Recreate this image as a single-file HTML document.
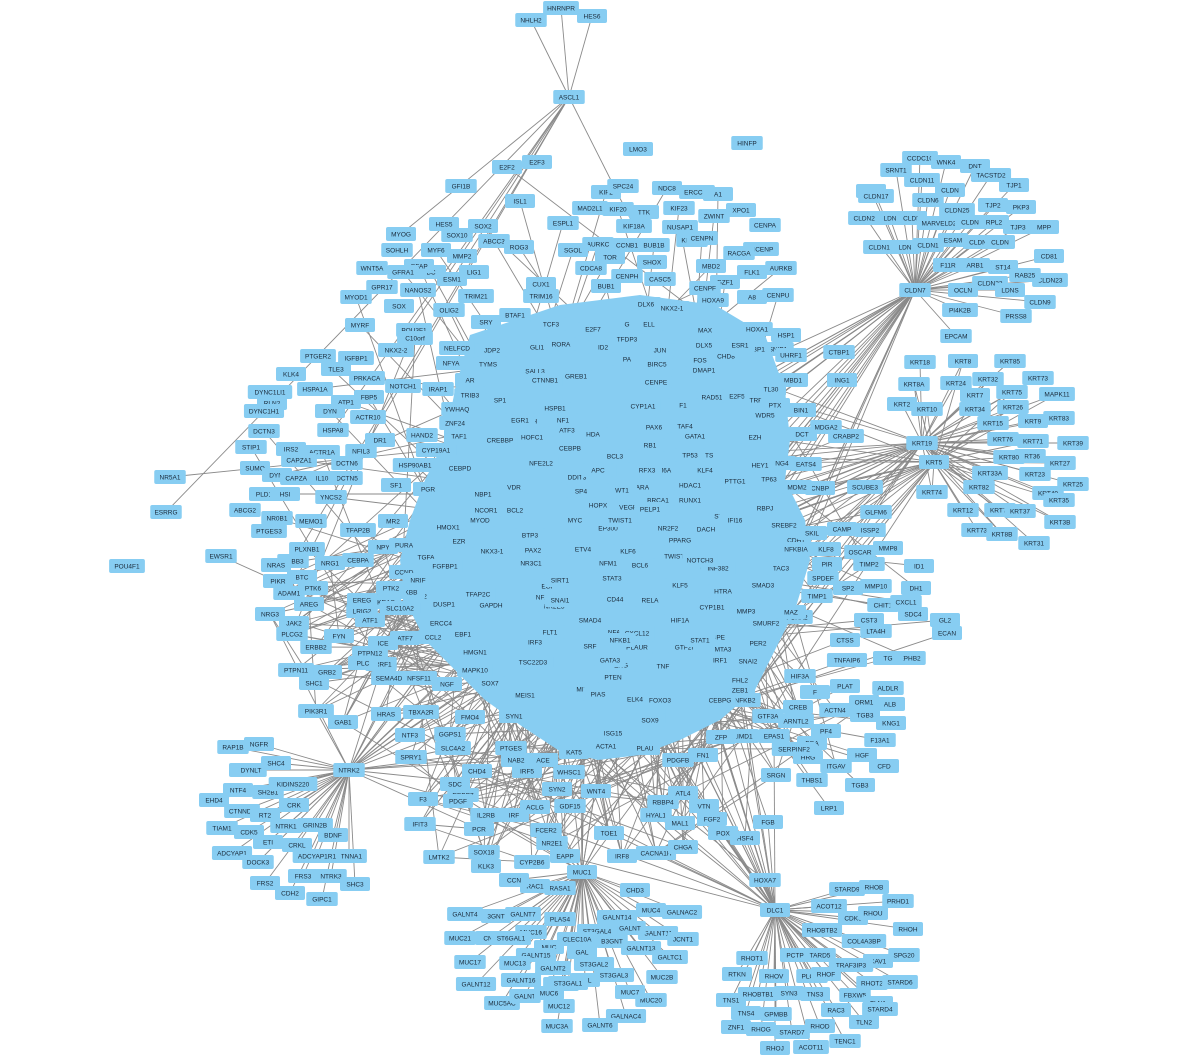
<!DOCTYPE html>
<html><head><meta charset="utf-8">
<style>
html,body{margin:0;padding:0;background:#fff;}
svg{display:block;}
text{font-family:"Liberation Sans",sans-serif;font-size:6.5px;fill:#1a2a3a;}
</style></head>
<body>
<svg id="net" width="1200" height="1058" viewBox="0 0 1200 1058" xmlns="http://www.w3.org/2000/svg">
<g id="edges"></g>
<path fill="#87CDF2" d="M470,335 L560,305 L640,295 L715,305 L765,335 L785,390 L790,440 L785,480 L805,520 L810,560 L795,610 L775,650 L755,690 L720,720 L680,740 L640,755 L598,760 L558,750 L520,725 L485,700 L455,670 L425,640 L405,600 L400,560 L410,520 L425,480 L445,440 L455,390 Z"/>
<g id="nodes"></g>
</svg>
<script>
// node labels and layout coordinates (center x, center y)
const labels = ["HNRNPR","NHLH2","HES6","ASCL1","LMO3","HINFP",
"CCDC10","WNK4","DNT","SRNT1","CLDN11","TACSTD2","TJP1","CLDN","CLDN17","CLDN6","CLDN","CLDN25","TJP2","PKP3","CLDN24","LDN","CLDN","MARVELD2","CLDN","RPL2","TJP3","MPP","CLDN10","LDN","CLDN1","ESAM","CLDN","CLDN","CD81","F11R","ARB1","ST14","CLDN23","RAB25","CLDN7","OCLN","CLDN22","LDNS","CLDN9","PI4K2B","PRSS8","EPCAM",
"KRT18","KRT8","KRT85","KRT8A","KRT24","KRT32","KRT73","KRT75","KRT7","MAPK11","KRT2","KRT10","KRT34","KRT26","KRT83","KRT15","KRT9","KRT19","KRT76","KRT71","KRT39","KRT36","KRT5","KRT27","KRT23","KRT74","KRT25","KRT82","KRT40","KRT35","KRT12","KRT72","KRT37","KRT3B","KRT73","KRT8B","KRT31","KRT33A","KRT80","CNBP","SCUBE3",
"GLFM6","CDH1","MMP8","SKIL","KLF8","OSCAR","PIR","TIMP2","ID1","SPDEF","TIMP1","MMP10","DH1","SP2","CHIT1","CXCL1","SDC4","LTA4H","GL2","CST3","CTSS","ECAN","EPHB2","TNFAIP6","TG","PLAT","ALDLR","ORM1","ALB","TGB3","KNG1","F13A1","CFD","HGF","PF4","FGA","ITGAV","HRG","THBS1","TGB3","LRP1","ACTN4","F","HIF3A",
"DLC1","STARD9","RHOB","ACOT12","PRHD1","CDK6","RHOU","RHOH","COL4A3BP","RHOBTB2","CAV1","SPG20","TRAF3IP3","RHOT1","PCTP","TARD5","RHOT2","STARD6","RTKN","RHOV","PLCD1","RHOF","FBXW5","TLN1","TNS1","RHOBTB1","SYN3","TNS3","STARD4","RAC3","TNS4","GPMBB","STARD7","RHOD","TLN2","ZNF1","RHOG","TENC1","RHOJ","ACOT11","HOXA7","FGB","HSF4","VTN","FN1","FGF2","POX",
"MUC1","CHD3","MUC4","GALNAC2","GALNT14","GALNT11","GALNT","JCNT1","GALNT13","GALTC1","MUC2B","MUC20","GALNAC4","GALNT6","MUC7","GALNT4","3GNT","GALNT7","PLAS4","ST3GAL4","MUC16","CLEC10A","B3GNT","MUC21","CNT","ST6GAL1","MUC","GALNT15","GAL","MUC17","MUC13","GALNT2","ST3GAL3","GALNT8","GALNT12","GALNT16","GAL","ST3GAL1","ST3GAL2","MUC5AC","GALNT","MUC6","MUC12","MUC3A","RASA1","RAC1","CCN",
"NTRK2","RAP1B","NGFR","SHC4","SHC2","DYNLT","NTF4","SH2B1","KIDINS220","EHD4","CRK","NTRK1","TIAM1","CDK5","GRIN2B","CTNND1","BDNF","CRKL","CTNNA1","ADCYAP1","DOCK3","ADCYAP1R1","FRS2","FRS3","NTRK3","SHC3","CDH2","GIPC1","RT2","ETI",
"PTGER2","IGFBP1","MYRF","KLK4","HSPA1A","TLE3","PRKACA","DYNC1LI1","FBP5","RLN2","ATP1","NOTCH1","IRAP1","DYNC1H1","DYN","ACTR10","HAND2","ZNF24","TRIB3","YWHAQ","DCTN3","HSPA8","ACTR1A","TAF1","STIP1","IRS2","NFIL3","DR1","CYP19A1","SUMO","CAPZA1","DCTN6","DYNI","DCTN5","HSP90AB1","CEBPD","CAPZA1","IL10","NR5A1","ABCG2","PLD1","HSI","YNCS2","SF1","PGR","ESRRG","NR0B1","MEMO1","TFAP2B","PTGES3","EWSR1","POU4F1","NPY","MR2","PURA","TGFA","PLXNB1","ERBB3","NRG1","CEBPA","BTC","PTK6","NRAS",
"GFI1B","E2F2","E2F3","ISL1","HES5","SOX2","MYOG","MYF6","SOX10","ABCC3","SOHLH","BC","MMP2","ROG3","WNT5A","GFAP","LIG1","GFRA1","ESM1","NANOS2","GPR17","MYOD1","SOX","OLIG2","TRIM21","SRY","BTAF1","POU3F1","NELFCD","C10orf","NKX2-2","JDP2","NFYA","TYMS","CUX1",
"ESPL1","MAD2L1","KIF2","SPC24","NDC8","ERCC6L","KIF20","KIF18A","KIF23","TTK","A1","XPO1","ZWINT","CENPA","NUSAP1","INCENP","AURKC","CCNB1","BUB1B","KNTC1","CENPN","RACGA","SGOL","CDCA8","TOR","SHOX","MBD2","FLK1","AURKB","CENPH","BUB1","CASC5","GZF1","HOXA9","CENPU","A8","CENPF","TRIM16","DLX6","NKX2-1","MAX","DLX5","CHD8","HOXA1","HSP1","SNIP1","TP53BP1","UHRF1","DMAP1","CTBP1","ING1","MBD1","RAD51","E2F5","TL30","TRPS1","PTX","BIN1","WDR5","DCT","EZH","ING4","CRABP2","MDGA2","EATS4","HEY1","MDM2","TP63","SREBF2","NFKBIA","TAC3","CAMP","ISSP2",
"TCF3","GLI1","RORA","SALL3","GREB1","E2F7","ID2","TFDP3","ELL","BIRC5","CENPE","TFC","PA","G","HSPB1","ATF3","CRH","HOFC1","NFE2L2","CEBPB","DDIT3","TCF7L2","HDA","RB1","PAX6","CYP1A1","F1","TAF4","GATA1","KDM6A","KLF4","ETS","HDAC1","RARA","BCL3","SP4","NBP1","VDR","NCOR1","HMOX1","EZR","NR3C1","EGF","STAT3","BCL6","KLF6","NFM1","ETV4","BTP3","PAX2","RFX1","TWIST2","NR2F2","DACH","CIITA","KLF5","INF382","HTRA","CYP1B1","SMAD3","MMP3","SMURF2","FOXA2","MAZ","CD44","FLT1","NFA1","CXCL12","PLAUR","NR2E3","NFATC1","IRF3","TNF","PTEN","ERG","SRF","CEBPE","MTA3","GTF2I","ELK4","MITF","PIAS","CYP1A2","GTF3A","FHL2","SNAI2","PER2","ARNTL2","CREB","NFKB2","EPAS1","SERPINF2","LIMD1","ZFP","SRGN","VEGFA","EP300","MEIS1","TSC22D3","HMGN1","EBF1","MAPK10","SOX7","IRF5","SYN1","ACTA1","ISG15","PLAU","KAT5","PTGES","NAB2","ACE","WHSC1","SYN2","WNT4","PDGFB","FCER2","NR2E1","EAPP","PCR","SOX18","KLK3","CYP2B6","TOE1","CACNA1H","CHGA","IRF8","GDF15","RBBP4","HYAL1","MAL1","ATL4","IL2RB","IRF","ACLG","RBBP7","SDC","PDGF","F3","IFIT3","LMTK2","CHD4","SPRY1","SLC4A2","NTF3","GGPS1","TBXA2R","FMO4","NGF","TNFSF11","SEMA4D","ERRF1","PLC","GRB2","SHC1","PIK3R1","GAB1","HRAS","PTPN11","PLCG2","ERBB2","PTPN12","FYN","JAK2","NRG3","ADAM1","PIKR","AREG","EREG","LRIG2","ATF1","KRAS","NOS2","SLC10A2","DUSP1","ERCC4","CCL2","ATF7","ICE","IKBB","FGFBP1","GAPDH","TFAP2C","NKX3-1","PTK2","CCND","NRIF",
"WT1","HOPX","BRCA1","RUNX1","STAT5A","PELP1","IFI16","RBPJ","PTTG1","NF1","APC","RFX3","TP53","BCL2","MYC","JUN","FOS","ESR1","AR","SP1","EGR1","CTNNB1","SMAD4","NFKB1","RELA","HIF1A","STAT1","IRF1","CREBBP","SIRT1","GATA3","FOXO3","NOTCH3","ZEB1","SNAI1","TWIST1","PPARG","CEBPG","MYOD","SOX9"];
const xs = [561,531,592,569,638,747,
920,946,975,896,922,991,1014,871,876,928,950,957,993,1021,866,890,912,939,970,994,1018,1044,881,905,928,953,978,1000,1049,948,975,1003,1050,1025,915,963,990,1010,1040,960,1016,956,
920,963,1010,914,956,988,1038,1012,975,1057,902,927,975,1013,1059,993,1033,922,1003,1033,1073,1030,934,1060,1035,932,1073,979,1048,1059,963,1000,1020,1060,977,1002,1034,990,1009,820,865,
876,796,888,812,826,860,827,869,919,823,817,876,916,848,883,906,913,876,945,869,845,947,910,847,888,845,888,864,890,865,891,880,884,862,826,812,836,808,812,860,829,835,815,800,
775,847,874,829,898,853,873,908,864,822,878,904,851,752,795,820,872,900,737,774,812,826,855,878,731,758,789,815,880,836,746,776,792,820,864,736,761,845,775,811,765,768,745,704,703,712,723,
582,635,651,682,617,658,630,683,641,670,662,651,626,600,630,465,496,523,560,597,531,577,612,460,490,511,549,536,582,470,515,553,614,561,476,521,585,568,594,502,525,549,559,557,560,535,514,
349,233,259,276,244,251,238,268,293,214,294,286,222,249,315,242,333,297,349,232,258,317,265,303,331,355,290,322,265,268,
318,356,360,291,315,336,367,270,369,272,346,403,438,264,330,368,422,455,470,457,264,333,322,459,251,291,361,380,436,255,299,347,277,347,415,460,298,322,170,245,264,285,331,396,428,166,277,311,358,269,221,127,383,393,404,426,307,293,330,358,302,313,276,
461,507,537,520,444,483,401,436,457,494,397,431,462,519,372,419,474,403,452,418,382,356,399,449,476,486,515,414,457,415,396,492,451,488,541,
563,590,606,623,667,697,618,634,679,644,718,741,714,765,680,761,598,627,654,692,702,739,573,591,610,652,711,752,781,627,606,660,725,713,778,752,705,541,646,672,705,704,726,757,786,778,751,791,704,839,842,793,712,737,771,760,775,801,765,802,755,781,846,826,806,760,797,769,784,796,781,842,870,
551,537,561,535,576,593,603,627,649,657,656,660,627,627,555,567,530,532,541,570,577,599,593,650,654,643,683,685,695,660,705,707,690,640,615,581,483,514,486,448,459,531,548,612,640,628,608,583,530,533,682,676,668,706,708,680,718,723,712,763,746,766,797,791,615,550,616,637,637,554,548,535,663,613,621,590,714,723,684,635,584,598,648,768,740,748,758,796,798,745,774,794,743,721,776,630,608,525,533,475,463,475,490,527,514,606,613,645,574,511,516,543,569,557,596,678,546,552,565,479,484,486,532,609,656,683,622,570,663,656,680,683,486,514,535,463,455,458,423,420,439,477,411,453,410,450,421,470,447,417,389,381,363,327,314,316,343,386,296,292,316,370,339,294,270,289,278,309,362,362,370,386,418,400,444,441,433,405,383,410,445,491,478,492,391,404,418,
622,598,658,690,726,650,735,765,735,563,598,647,690,515,575,660,700,740,470,500,520,545,590,620,650,680,700,720,500,560,610,660,700,740,560,620,680,720,480,650];
const ys = [8,20,16,97,149,143,
158,162,166,170,180,175,185,191,196,200,190,210,205,207,218,218,218,223,222,222,227,227,247,247,245,240,242,242,256,265,265,267,280,275,290,290,283,290,302,310,316,336,
362,361,361,384,383,379,378,392,395,394,404,409,409,407,418,423,421,443,439,441,443,456,462,463,474,492,484,487,493,500,510,510,511,522,530,534,543,473,457,488,487,
512,540,548,533,549,552,564,564,566,578,596,586,588,588,605,602,614,631,620,620,640,633,658,660,658,686,688,702,704,715,723,740,766,755,731,743,766,757,780,785,808,710,692,676,
910,889,887,906,901,918,913,929,941,930,961,955,965,958,955,955,983,982,974,976,976,974,995,1003,1000,994,993,994,1009,1010,1013,1014,1032,1026,1022,1027,1029,1041,1048,1047,880,822,838,806,755,819,833,
872,890,910,912,917,933,928,939,948,957,977,1000,1016,1025,992,914,916,914,919,931,932,939,941,938,938,938,947,955,952,962,963,968,975,984,984,980,980,983,964,1003,996,993,1006,1026,888,886,880,
770,747,744,763,770,770,790,792,784,800,805,826,828,832,825,811,835,845,856,853,862,856,883,876,876,884,893,899,815,842,
356,358,325,374,389,369,378,392,397,403,402,386,389,411,411,417,435,423,395,409,431,430,452,436,447,449,451,440,450,468,460,463,475,478,465,468,478,478,477,510,494,494,497,485,489,512,518,521,530,531,556,566,547,521,545,557,549,561,563,560,577,588,565,
186,167,162,201,224,226,234,250,235,241,250,272,256,247,268,266,272,272,279,290,287,297,306,310,296,322,315,330,348,338,350,350,363,364,284,
223,208,192,186,188,192,209,226,208,212,194,210,216,225,227,249,244,245,245,240,238,253,250,268,257,262,266,272,268,276,286,279,282,300,295,297,288,296,304,308,330,345,356,329,335,349,349,355,370,352,380,380,397,396,389,400,405,410,415,434,437,463,436,427,464,465,487,479,525,549,568,529,530,
324,347,344,371,376,329,347,339,324,364,382,347,359,324,408,430,421,437,463,448,477,470,434,445,427,406,405,426,436,470,470,455,485,487,456,491,494,487,510,527,541,563,586,578,565,551,563,549,535,550,540,556,528,529,568,585,568,591,607,585,611,623,617,612,599,632,632,633,647,606,597,642,666,677,665,646,637,649,647,699,689,694,716,716,680,661,643,721,707,700,736,749,736,737,775,507,528,695,662,652,634,670,683,771,716,746,733,748,752,748,760,760,772,789,791,760,830,843,856,829,852,866,862,833,853,847,856,806,802,815,823,793,815,815,807,795,784,801,799,824,857,771,757,748,735,734,712,717,684,678,678,664,663,672,683,711,722,714,670,634,647,653,636,623,614,593,581,604,600,611,620,602,596,608,604,623,637,638,643,592,566,605,594,551,588,572,580,
490,505,500,500,516,509,520,508,481,420,470,470,455,510,520,350,360,345,380,400,420,380,620,640,600,620,640,660,440,580,660,700,560,690,600,520,540,700,520,720];

const eg = document.getElementById('edges');
const ng = document.getElementById('nodes');
const NS = 'http://www.w3.org/2000/svg';
const N = Math.min(labels.length, xs.length, ys.length);
const idx = (s)=>labels.indexOf(s);
function line(a,b){
  if(a<0||b<0||a>=N||b>=N) return;
  const l = document.createElementNS(NS,'line');
  
  
  l.setAttribute('x1',xs[a]);l.setAttribute('y1',ys[a]);
  l.setAttribute('x2',xs[b]);l.setAttribute('y2',ys[b]);
  l.setAttribute('stroke','#8a8a8a');l.setAttribute('stroke-width','0.9');
  eg.appendChild(l);
}
const ascl=idx('ASCL1'), cldn7=idx('CLDN7'), krt19=idx('KRT19'), krt5=idx('KRT5'), dlc1=idx('DLC1'), muc1=idx('MUC1'), ntrk2=idx('NTRK2');
const c0 = idx('TCF3'), cN = N - c0;
const cen = (k)=> c0 + ((k%cN)+cN)%cN;
for(let i=0;i<3;i++) line(ascl,i);
for(let i=idx('CCDC10');i<=idx('EPCAM');i++) if(i!==cldn7) line(cldn7,i);
for(let i=idx('KRT18');i<=idx('SCUBE3');i++){ if(i!==krt19&&i!==krt5){ line(krt19,i); if(i%2) line(krt5,i);} }
for(let i=idx('DLC1')+1;i<=idx('ACOT11');i++) line(dlc1,i);
for(let i=muc1+1;i<=idx('CCN');i++) line(muc1,i);
for(let i=ntrk2+1;i<=idx('ETI');i++) line(ntrk2,i);
for(let i=idx('GLFM6');i<=idx('HIF3A');i++) line(i, cen(i*7));
for(let i=idx('HOXA7');i<=idx('POX');i++){ line(i, cen(i*5)); line(i, dlc1); }
for(let k=0;k<24;k++) line(cldn7, cen(k*7+40));
for(let k=0;k<20;k++){ line(krt19, cen(k*11+60)); line(krt5, cen(k*13+63)); }
for(let k=0;k<22;k++){ line(dlc1, cen(k*17+5)); line(ntrk2, cen(k*9+2)); }
for(let k=0;k<14;k++) line(muc1, cen(k*19+4));
for(let k=0;k<8;k++) line(ascl, idx('TCF3')-150 + k*12);
for(let i=idx('PTGER2');i<c0;i+=2) line(i, cen(i*7));
for(let i=c0;i<N;i++){ line(i, cen(i*3+7)); line(i, cen(i*5+11)); }

for(let i=0;i<N;i++){
  const g = document.createElementNS(NS,'g');
  
  
  const w = Math.max(30, labels[i].length*4.3+10), h = 14;
  const r = document.createElementNS(NS,'rect');
  r.setAttribute('x',xs[i]-w/2);r.setAttribute('y',ys[i]-h/2);
  r.setAttribute('width',w);r.setAttribute('height',h);
  r.setAttribute('rx',2);r.setAttribute('fill','#87CDF2');
  const t = document.createElementNS(NS,'text');
  t.setAttribute('x',xs[i]);t.setAttribute('y',ys[i]+2.3);
  t.setAttribute('text-anchor','middle');
  t.textContent = labels[i];
  g.appendChild(r);g.appendChild(t);ng.appendChild(g);
}
</script>
</body></html>
